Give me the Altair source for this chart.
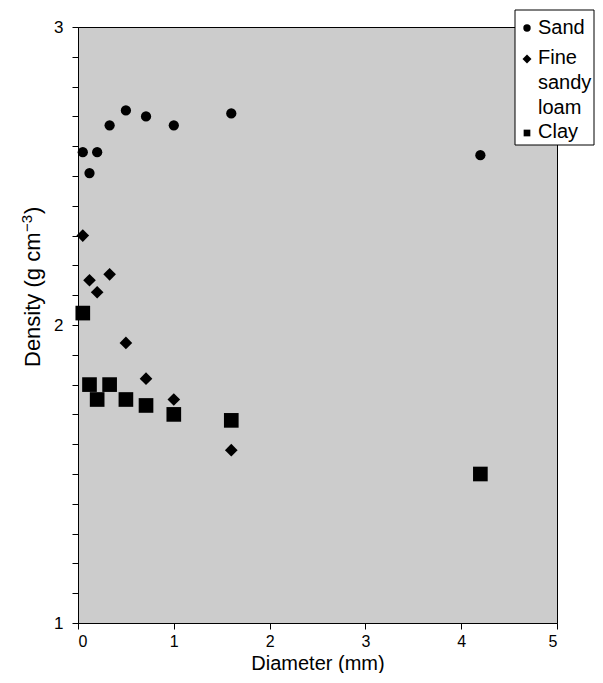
import altair as alt
import pandas as pd

# Data
diameter = [0.05, 0.12, 0.2, 0.33, 0.5, 0.71, 1.0, 1.6, 4.2]
sand = [2.58, 2.51, 2.58, 2.67, 2.72, 2.70, 2.67, 2.71, 2.57]
fine_sandy_loam = [2.30, 2.15, 2.11, 2.17, 1.94, 1.82, 1.75, 1.58, 1.50]
clay = [2.04, 1.80, 1.75, 1.80, 1.75, 1.73, 1.70, 1.68, 1.50]

soils = ["Sand", "Fine sandy loam", "Clay"]
legend_labels = ["Sand", "Fine\nsandy\nloam", "Clay"]
shapes = ["circle", "diamond", "square"]
sizes = [105, 215, 88]

y_ticks = [round(1 + i * 0.1, 1) for i in range(21)]
x_ticks = [0, 1, 2, 3, 4, 5]

# y-axis title pieces: main text, superscript, closing parenthesis
y_title_parts = ["Density (g cm", "−3", ")"]

rows = []
for name, vals in zip(soils, [sand, fine_sandy_loam, clay]):
    for d, v in zip(diameter, vals):
        rows.append({"Diameter": d, "Density": v, "Soil": name})
df = pd.DataFrame(rows)

FONT = "Liberation Sans"

points = alt.Chart(df).mark_point(filled=True, opacity=1, strokeWidth=0).encode(
    x=alt.X("Diameter:Q",
            scale=alt.Scale(domain=[0, 5], nice=False, zero=False),
            axis=alt.Axis(title="Diameter (mm)", values=x_ticks, format="d",
                          tickSize=6, labelPadding=4, labelFontSize=16,
                          titleFontSize=20, titleFontWeight="normal",
                          titleY=46, titleBaseline="alphabetic")),
    y=alt.Y("Density:Q",
            scale=alt.Scale(domain=[1, 3], nice=False, zero=False),
            axis=alt.Axis(title=None, values=y_ticks,
                          labelExpr="datum.value % 1 == 0 ? format(datum.value, 'd') : ''",
                          tickSize=6, labelPadding=9, labelFontSize=17)),
    shape=alt.Shape("Soil:N", scale=alt.Scale(domain=soils, range=shapes), legend=None),
    size=alt.Size("Soil:N", scale=alt.Scale(domain=soils, range=sizes), legend=None),
    color=alt.value("black"),
)

one = pd.DataFrame({"k": [0]})

# Rotated y-axis title built from pieces so that the exponent is a raised superscript
title_layers = [
    alt.Chart(one).mark_text(text=y_title_parts[0], angle=270, align="left",
                             baseline="alphabetic", font=FONT, fontSize=22, color="black")
    .encode(x=alt.value(-38), y=alt.value(340)),
    alt.Chart(one).mark_text(text=y_title_parts[1], angle=270, align="left",
                             baseline="alphabetic", font=FONT, fontSize=15, color="black")
    .encode(x=alt.value(-46), y=alt.value(205)),
    alt.Chart(one).mark_text(text=y_title_parts[2], angle=270, align="left",
                             baseline="alphabetic", font=FONT, fontSize=22, color="black")
    .encode(x=alt.value(-38), y=alt.value(187)),
]

# Hand-built legend box (the reference puts it in the top-right corner, overlapping the frame)
legend_box = alt.Chart(one).mark_rect(fill="white", stroke="black", strokeWidth=1).encode(
    x=alt.value(437), x2=alt.value(516), y=alt.value(-17), y2=alt.value(118)
)
leg_sym_y = [1, 32, 106]
leg_txt_y = [1, 31, 105]
leg_sym_size = [55, 80, 45]
legend_layers = [legend_box]
for lab, shp, sy, ty, ss in zip(legend_labels, shapes, leg_sym_y, leg_txt_y, leg_sym_size):
    legend_layers.append(
        alt.Chart(one).mark_point(shape=shp, filled=True, size=ss, color="black",
                                  opacity=1, strokeWidth=0)
        .encode(x=alt.value(449), y=alt.value(sy))
    )
    legend_layers.append(
        alt.Chart(one).mark_text(text=lab, lineBreak="\n", align="left", baseline="middle",
                                 font=FONT, fontSize=20, lineHeight=25, color="black")
        .encode(x=alt.value(460), y=alt.value(ty))
    )

chart = alt.layer(points, *title_layers, *legend_layers).properties(
    width=479, height=596,
    autosize=alt.AutoSizeParams(type="none"),
    padding={"left": 70, "top": 19, "right": 38, "bottom": 50},
).configure_view(
    fill="#cccccc", stroke="black", strokeWidth=1
).configure_axis(
    grid=False, domainColor="black", tickColor="black", labelColor="black",
    titleColor="black", labelFont=FONT, titleFont=FONT, domainWidth=1, tickWidth=1
)

chart.save("out.html", embed_options={"renderer": "svg", "actions": False})
